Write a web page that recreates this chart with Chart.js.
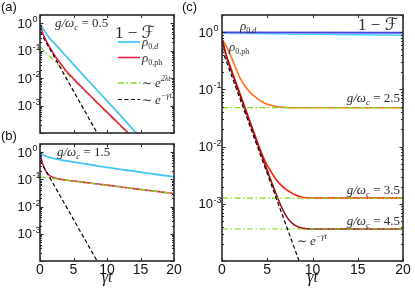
<!DOCTYPE html>
<html><head><meta charset="utf-8">
<script src="https://cdn.jsdelivr.net/npm/chart.js@4.4.0/dist/chart.umd.min.js"></script>
<style>
html,body{margin:0;padding:0;background:#fff;width:415px;height:291px;overflow:hidden}
canvas.c{position:absolute;left:0;top:0}
</style></head><body>
<canvas id="ca" class="c" width="415" height="291"></canvas>
<canvas id="cb" class="c" width="415" height="291"></canvas>
<canvas id="cc" class="c" width="415" height="291"></canvas>
<script>
// ---------- tick labels ----------
const xTickVals = [0, 5, 10, 15, 20];
const xTickLabels = ['0', '5', '10', '15', '20'];
const yTickVals = [1, 0.1, 0.01, 0.001];
const yTickExp = ['0', '-1', '-2', '-3'];

// ---------- panel (a): g/wc = 0.5 ----------
const tA = [0, 0.25, 0.5, 1, 1.5, 2, 3, 4, 6, 8, 10, 12, 14, 16];
const aRhoD  = [1.0, 0.759, 0.603, 0.398, 0.275, 0.200, 0.110, 0.0589, 0.0170, 0.00501, 0.00148, 0.000437, 0.000126, 0.0000372];
const aRhoPh = [0.759, 0.562, 0.380, 0.209, 0.126, 0.0794, 0.0355, 0.0174, 0.00537, 0.00174, 0.000575, 0.000191, 0.0000631, 0.0000209];
const aGreenT = [0, 14];
const aGreen  = [0.14, 0.0000575];
const blackT = [0, 9];
const black  = [0.5, 0.000062];

// ---------- panel (b): g/wc = 1.5 ----------
const tB = [0, 0.25, 0.5, 1, 1.5, 2, 3, 4, 6, 8, 10, 12, 14, 16, 18, 20];
const bRhoD  = [1.0, 0.871, 0.794, 0.692, 0.631, 0.589, 0.525, 0.479, 0.398, 0.331, 0.275, 0.234, 0.200, 0.170, 0.145, 0.126];
const bRhoPh = [0.891, 0.501, 0.316, 0.178, 0.135, 0.117, 0.102, 0.0933, 0.0813, 0.0708, 0.0617, 0.0537, 0.0457, 0.0398, 0.0347, 0.0302];
const bGreenT = [0, 20];
const bGreen  = [0.123, 0.0302];

// ---------- panel (c): g/wc = 2.5, 3.5, 4.5 ----------
const tC = [0, 0.25, 0.5, 1, 1.5, 2, 2.5, 3, 3.5, 4, 4.5, 5, 5.5, 6, 6.5, 7, 7.5, 8, 8.5, 9, 10, 12, 14, 16, 18, 20];
const cPh25 = [0.759, 0.661, 0.562, 0.380, 0.240, 0.158, 0.117, 0.0933, 0.0776, 0.0676, 0.0603, 0.0550, 0.0525, 0.0501, 0.0490, 0.0484, 0.0479, 0.0479, 0.0479, 0.0479, 0.0479, 0.0479, 0.0479, 0.0479, 0.0479, 0.0479];
const cPh35 = [0.759, 0.525, 0.380, 0.229, 0.138, 0.0832, 0.0501, 0.0302, 0.0182, 0.0110, 0.00692, 0.00468, 0.00347, 0.00263, 0.00214, 0.00182, 0.00162, 0.00145, 0.00135, 0.00129, 0.00126, 0.00126, 0.00126, 0.00126, 0.00126, 0.00126];
const cPh45 = [0.759, 0.525, 0.372, 0.219, 0.132, 0.0794, 0.0479, 0.0288, 0.0174, 0.0105, 0.00631, 0.00380, 0.00234, 0.00145, 0.000933, 0.000646, 0.000501, 0.000427, 0.000389, 0.000372, 0.000363, 0.000363, 0.000363, 0.000363, 0.000363, 0.000363];
const cDT = [0, 20];
const cD25 = [0.96, 0.885];
const cD35 = [0.98, 0.96];
const cD45 = [1.0, 0.99];
const cGreenT = [0, 20];
const cGreen25 = [0.0479, 0.0479];
const cGreen35 = [0.00126, 0.00126];
const cGreen45 = [0.000363, 0.000363];

// ---------- styles ----------
const COL = {
  cyan: '#45c8f0', red: '#ec1f4a', green: '#7fdc1a', black: '#000000',
  orange: '#ff7418', red35: '#ff1f0a', red45: '#a01014',
  blue45: '#4646dc', blue35: '#8c8cff', cyan25: '#40d8f4'
};
const DASHDOT = [6, 2.5, 1.5, 2.5];
const DASH = [4, 2.5];
const SERIF = '"Liberation Serif","DejaVu Serif",serif';
const SANS = '"Liberation Sans",Arial,sans-serif';
const FRAME = '#262a30';

function pts(xs, ys) { return xs.map((x, i) => ({ x: x, y: ys[i] })); }
function ds(label, xs, ys, color, w, dash, order, smooth) {
  return {
    label: label, data: pts(xs, ys), borderColor: color, backgroundColor: color,
    borderWidth: w, borderDash: dash || [], order: order, pointRadius: 0,
    cubicInterpolationMode: smooth ? 'monotone' : 'default', fill: false
  };
}

// rich text: segs = [[text, font, dy], ...]
function rich(ctx, x, y, segs, align, color) {
  ctx.save();
  ctx.fillStyle = color || '#2a2a2a';
  ctx.textBaseline = 'alphabetic';
  ctx.textAlign = 'left';
  let w = 0;
  for (const s of segs) { ctx.font = s[1]; w += ctx.measureText(s[0]).width; }
  let cx = align === 'right' ? x - w : (align === 'center' ? x - w / 2 : x);
  for (const s of segs) {
    ctx.font = s[1];
    ctx.fillText(s[0], cx, y + (s[2] || 0));
    cx += ctx.measureText(s[0]).width;
  }
  ctx.restore();
}
const fI = (px) => 'italic ' + px + 'px ' + SERIF;
const fR = (px) => px + 'px ' + SERIF;

function gLabel(val) {
  return [['g/ω', fI(13)], ['c', fI(9), 3], [' = ' + val, fR(13)]];
}

function line(ctx, x1, y1, x2, y2) { ctx.beginPath(); ctx.moveTo(x1, y1); ctx.lineTo(x2, y2); ctx.stroke(); }

const decor = {
  id: 'decor',
  afterDraw(chart, args, o) {
    const ctx = chart.ctx;
    const { left, right, top, bottom } = chart.chartArea;
    const xs = chart.scales.x, ys = chart.scales.y;
    ctx.save();
    ctx.strokeStyle = FRAME;
    ctx.lineWidth = 1;
    for (const v of xTickVals) {
      const px = Math.round(xs.getPixelForValue(v)) + 0.5;
      line(ctx, px, bottom, px, bottom - 3);
      line(ctx, px, top, px, top + 3);
    }
    for (let e = -4; e <= 0; e++) {
      for (let m = 1; m <= 9; m++) {
        const v = m * Math.pow(10, e);
        if (v < ys.min || v > ys.max) continue;
        const py = Math.round(ys.getPixelForValue(v)) + 0.5;
        const L = m === 1 ? 3.5 : 2;
        line(ctx, left, py, left + L, py);
        line(ctx, right, py, right - L, py);
      }
    }
    ctx.lineWidth = 1.6;
    ctx.strokeRect(left, top, right - left, bottom - top);
    ctx.fillStyle = '#111';
    yTickVals.forEach((v, i) => {
      const py = ys.getPixelForValue(v);
      ctx.font = '13px ' + SANS;
      ctx.textAlign = 'right';
      ctx.textBaseline = 'alphabetic';
      const xr = left - o.yLabGap;
      ctx.fillText('10', xr, py + 4.6);
      ctx.font = '9px ' + SANS;
      ctx.textAlign = 'left';
      ctx.fillText(yTickExp[i], xr + 0.5, py - 1);
    });
    if (o.xLabels) {
      ctx.font = '14px ' + SANS;
      ctx.textAlign = 'center';
      xTickVals.forEach((v, i) => {
        ctx.fillText(xTickLabels[i], xs.getPixelForValue(v), bottom + 12.5);
      });
      rich(ctx, (left + right) / 2, bottom + 21, [['γ', fI(16)], ['t', fI(16)]], 'center', '#111');
    }
    ctx.font = '13px ' + SANS;
    ctx.textAlign = 'left';
    ctx.fillStyle = '#111';
    ctx.fillText(o.tag[0], o.tag[1], o.tag[2]);
    ctx.restore();
    if (o.extra) o.extra(chart, ctx);
  }
};

function makeChart(id, pad, datasets, decorOpts) {
  return new Chart(document.getElementById(id), {
    type: 'line',
    data: { datasets: datasets },
    options: {
      responsive: false, animation: false, devicePixelRatio: 1,
      layout: { padding: pad },
      scales: {
        x: { type: 'linear', min: 0, max: 20, display: false },
        y: { type: 'logarithmic', min: 1e-4, max: 2, display: false }
      },
      plugins: { legend: { display: false }, tooltip: { enabled: false }, decor: decorOpts }
    },
    plugins: [decor]
  });
}

// ----- (a) -----
const dsA = [
  ds('ρ0,d', tA, aRhoD, COL.cyan, 1.8, null, 3, true),
  ds('ρ0,ph', tA, aRhoPh, COL.red, 1.6, null, 1, true),
  ds('~e^{2λt}', aGreenT, aGreen, COL.green, 1.3, DASHDOT, 2, false),
  ds('~e^{-γt}', blackT, black, COL.black, 1.2, DASH, 0, false)
];
makeChart('ca', { left: 40, top: 15, right: 241, bottom: 158 }, dsA, {
  xLabels: false, yLabGap: 8, tag: ['(a)', 1, 11],
  extra(chart, ctx) {
    rich(ctx, 55, 27, gLabel('0.5'));
    rich(ctx, 115, 38, [['1 − ', fR(17)], ['ℱ', 'italic 17px "DejaVu Serif","DejaVu Sans",serif']]);
    const rows = [42, 57.5, 83, 99.5];
    const texts = [
      [['ρ', fI(13)], ['0,', fR(8), 3], ['d', fI(8), 3]],
      [['ρ', fI(13)], ['0,ph', fR(8), 3]],
      [['∼ ', fR(12)], ['e', fI(13)], ['2λt', fI(8), -6]],
      [['∼ ', fR(12)], ['e', fI(13)], ['−γt', fI(8), -6]]
    ];
    chart.data.datasets.forEach((d, i) => {
      ctx.save();
      ctx.strokeStyle = d.borderColor; ctx.lineWidth = d.borderWidth;
      ctx.setLineDash(d.borderDash);
      line(ctx, 118, rows[i], 140, rows[i]);
      ctx.restore();
      rich(ctx, 142, rows[i] + 4, texts[i]);
    });
  }
});

// ----- (b) -----
const dsB = [
  ds('ρ0,d', tB, bRhoD, COL.cyan, 1.8, null, 3, true),
  ds('ρ0,ph', tB, bRhoPh, COL.red, 1.6, null, 2, true),
  ds('~e^{2λt}', bGreenT, bGreen, COL.green, 1.3, DASHDOT, 1, false),
  ds('~e^{-γt}', blackT, black, COL.black, 1.2, DASH, 0, false)
];
makeChart('cb', { left: 40, top: 144, right: 241, bottom: 30 }, dsB, {
  xLabels: true, yLabGap: 8, tag: ['(b)', 1, 140],
  extra(chart, ctx) { rich(ctx, 57, 156, gLabel('1.5')); }
});

// ----- (c) -----
const dsC = [
  ds('ρ0,d 4.5', cDT, cD45, COL.blue45, 1.6, null, 5, false),
  ds('ρ0,d 3.5', cDT, cD35, COL.blue35, 1.4, null, 6, false),
  ds('ρ0,d 2.5', cDT, cD25, COL.cyan25, 1.6, null, 7, false),
  ds('ρ0,ph 2.5', tC, cPh25, COL.orange, 1.6, null, 4, true),
  ds('ρ0,ph 3.5', tC, cPh35, COL.red35, 1.6, null, 3, true),
  ds('ρ0,ph 4.5', tC, cPh45, COL.red45, 1.6, null, 2, true),
  ds('e2λt 2.5', cGreenT, cGreen25, COL.green, 1.2, DASHDOT, 1, false),
  ds('e2λt 3.5', cGreenT, cGreen35, COL.green, 1.2, DASHDOT, 1, false),
  ds('e2λt 4.5', cGreenT, cGreen45, COL.green, 1.2, DASHDOT, 1, false),
  ds('e-γt', blackT, black, COL.black, 1.2, DASH, 0, false)
];
makeChart('cc', { left: 222, top: 15, right: 12, bottom: 30 }, dsC, {
  xLabels: true, yLabGap: 9, tag: ['(c)', 182, 11],
  extra(chart, ctx) {
    rich(ctx, 240, 30, [['ρ', fI(13)], ['0,', fR(8), 3], ['d', fI(8), 3]]);
    rich(ctx, 229, 51, [['ρ', fI(13)], ['0,ph', fR(8), 3]]);
    rich(ctx, 398, 30, [['1 − ', fR(17)], ['ℱ', 'italic 17px "DejaVu Serif","DejaVu Sans",serif']], 'right');
    rich(ctx, 400, 102, gLabel('2.5'), 'right');
    rich(ctx, 400, 194, gLabel('3.5'), 'right');
    rich(ctx, 400, 225, gLabel('4.5'), 'right');
    rich(ctx, 297, 245, [['∼ ', fR(12)], ['e', fI(13)], ['−γt', fI(8), -6]]);
  }
});
</script>
</body></html>
